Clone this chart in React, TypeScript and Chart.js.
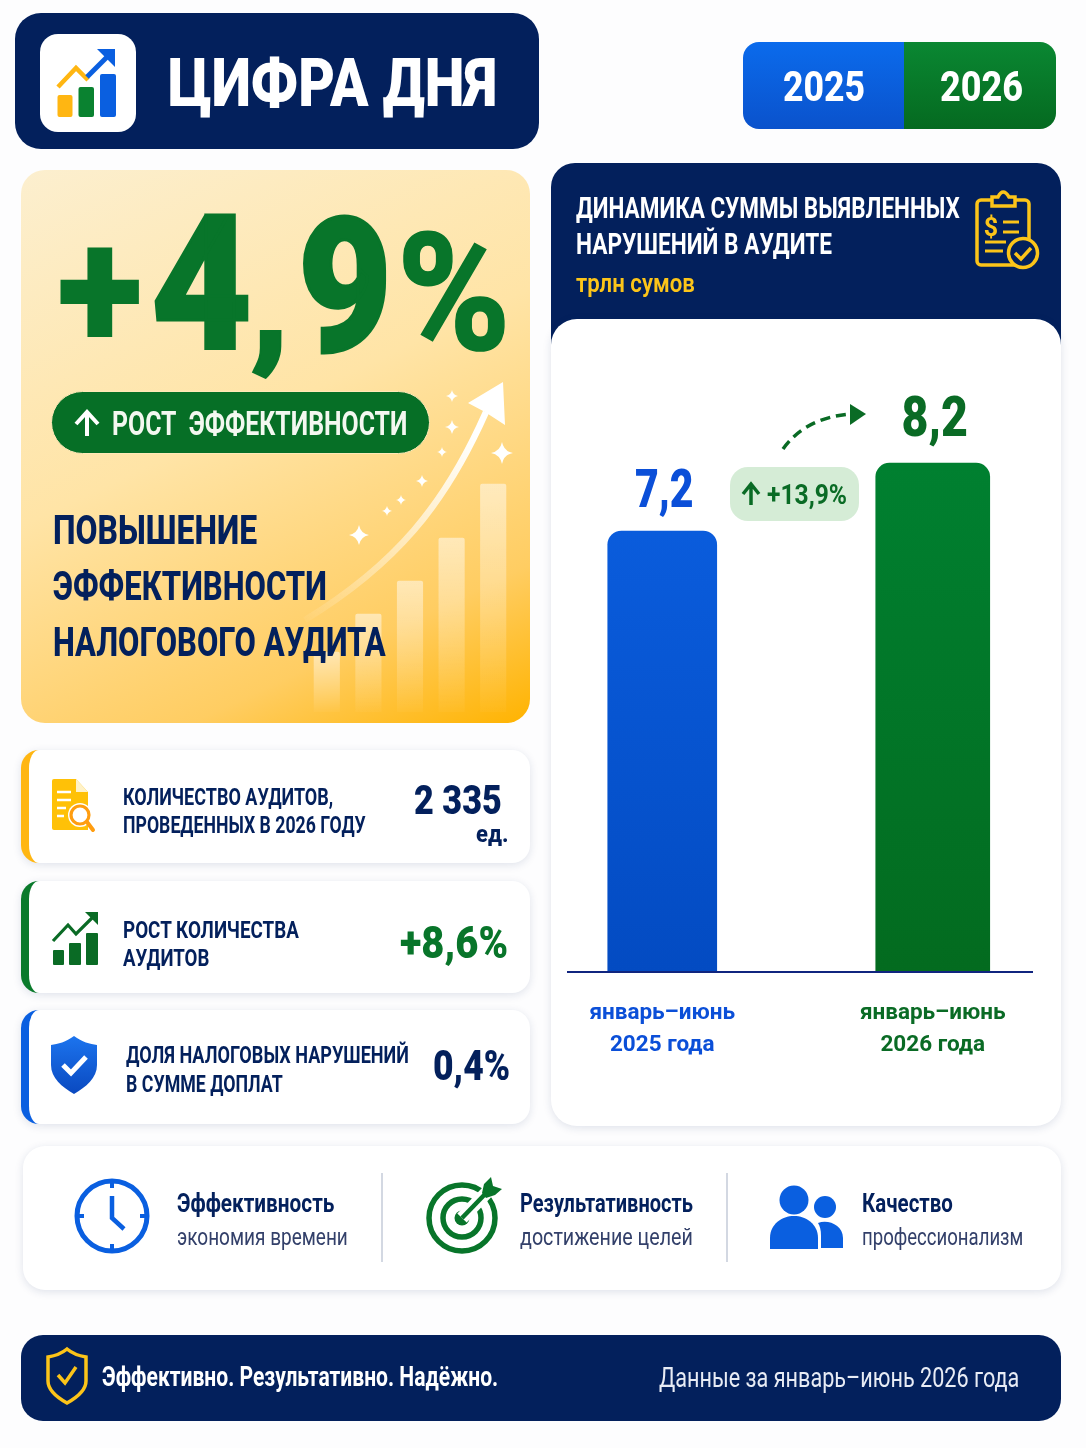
import React, { useEffect, useLayoutEffect, useRef } from "react";
import { Chart, registerables } from "chart.js";

Chart.register(...registerables);

const categories = [["январь–июнь", "2025 года"], ["январь–июнь", "2026 года"]];
const valuesTrln = [7.2, 8.2];
const valueLabels = ["7,2", "8,2"];
const labelGaps = [24, 27];
const labelSizes = [54, 56];
const labelStretch = [0.76, 0.83];
const barWidths = [109, 114];
const barTop = ["#0a5cdc", "#008030"];
const barBottom = ["#034bc2", "#036b1f"];
const tickColors = ["#0b4fd8", "#0a6b25"];
const decorHeights = [60, 98, 131, 174, 228];
const decorLabels = ["1", "2", "3", "4", "5"];

const NAVY = "#03205c";
const GREEN = "#08752a";
const FONT = "Roboto, sans-serif";

function T({ x, y, w, size, color = NAVY, weight = 700, children, ws = 0, stroke = 0 }: any) {
  const ref = useRef<HTMLSpanElement>(null);
  useLayoutEffect(() => {
    const el = ref.current;
    if (el && w) el.style.transform = `scaleX(${w / el.offsetWidth})`;
  }, [w]);
  return (
    <span
      ref={ref}
      style={{
        position: "absolute", left: x, top: y - 0.841 * size, fontFamily: FONT, fontSize: size,
        lineHeight: 1, fontWeight: weight, color, whiteSpace: "nowrap", display: "inline-block",
        transformOrigin: "0 0", wordSpacing: ws,
        ...(stroke ? { WebkitTextStroke: `${stroke}px ${color}` } : {}),
      }}
    >
      {children}
    </span>
  );
}

function Box({ x, y, r, b, style }: any) {
  return <div style={{ position: "absolute", left: x, top: y, width: r - x, height: b - y, boxSizing: "border-box", ...style }} />;
}

function star(cx: number, cy: number, s: number) {
  const k = s * 0.16;
  return `M${cx} ${cy - s}Q${cx + k} ${cy - k} ${cx + s} ${cy}Q${cx + k} ${cy + k} ${cx} ${cy + s}Q${cx - k} ${cy + k} ${cx - s} ${cy}Q${cx - k} ${cy - k} ${cx} ${cy - s}Z`;
}
const stars = [[452, 396, 6], [452, 427, 7], [442, 452, 5], [502, 453, 11], [422, 481, 6], [401, 500, 5], [387, 511, 5], [359, 535, 10]];

const cardShadow = "0 2px 9px rgba(25,45,100,.13)";

function vertical(chart: any, y: number, top: string, bottom: string) {
  const g = chart.ctx.createLinearGradient(0, y, 0, chart.chartArea.bottom);
  g.addColorStop(0, top);
  g.addColorStop(1, bottom);
  return g;
}

export default function App() {
  const chartRef = useRef<HTMLCanvasElement>(null);
  const decorRef = useRef<HTMLCanvasElement>(null);

  useEffect(() => {
    document.body.style.margin = "0";
    document.body.style.background = "#fdfdfe";
    const valueLabelPlugin = {
      id: "valueLabels",
      afterDatasetsDraw(chart: any) {
        const { ctx } = chart;
        chart.data.datasets.forEach((_: any, i: number) => {
          const el = chart.getDatasetMeta(i).data[i];
          ctx.save();
          ctx.translate(el.x + 2, el.y - labelGaps[i]);
          ctx.scale(labelStretch[i], 1);
          ctx.textAlign = "center";
          ctx.textBaseline = "alphabetic";
          ctx.font = `900 ${labelSizes[i]}px ${FONT}`;
          ctx.fillStyle = tickColors[i];
          ctx.fillText(valueLabels[i], 0, 0);
          ctx.restore();
        });
      },
    };
    const baselinePlugin = {
      id: "baseline",
      afterDatasetsDraw(chart: any) {
        const { ctx, chartArea } = chart;
        ctx.save();
        ctx.strokeStyle = "#10257f";
        ctx.lineWidth = 2;
        ctx.beginPath();
        ctx.moveTo(chartArea.left + 40, chartArea.bottom);
        ctx.lineTo(chartArea.right - 35, chartArea.bottom);
        ctx.stroke();
        ctx.restore();
      },
    };
    const main = new Chart(chartRef.current!, {
      type: "bar",
      data: {
        labels: categories as any,
        datasets: valuesTrln.map((v, i) => ({
          label: String(i),
          data: valuesTrln.map((_, j) => (j === i ? v : null)),
          barThickness: barWidths[i],
          borderRadius: 14,
          backgroundColor: (c: any) =>
            c.chart.chartArea ? vertical(c.chart, c.chart.scales.y.getPixelForValue(v), barTop[i], barBottom[i]) : barTop[i],
        })),
      },
      options: {
        animation: false,
        responsive: false,
        devicePixelRatio: 1,
        layout: { padding: 0 },
        plugins: { legend: { display: false }, tooltip: { enabled: false } },
        scales: {
          x: {
            stacked: true,
            grid: { display: false },
            border: { display: false },
            afterFit: (s: any) => { s.height = 98; },
            ticks: {
              padding: 17,
              autoSkip: false,
              maxRotation: 0,
              color: (c: any) => tickColors[c.index],
              font: { family: FONT, size: 22.5, weight: 700, lineHeight: 1.42 },
            },
          },
          y: { display: false, min: 0.7, max: 9.425, stacked: false },
        },
      } as any,
      plugins: [baselinePlugin, valueLabelPlugin],
    });
    const decor = new Chart(decorRef.current!, {
      type: "bar",
      data: {
        labels: decorLabels,
        datasets: [{
          data: decorHeights,
          barThickness: 25.5,
          borderRadius: 2,
          backgroundColor: (c: any) =>
            c.chart.chartArea
              ? vertical(c.chart, c.chart.scales.y.getPixelForValue(c.raw), "rgba(255,255,255,.5)", "rgba(255,255,255,.03)")
              : "rgba(255,255,255,.3)",
        }],
      },
      options: {
        animation: false,
        responsive: false,
        devicePixelRatio: 1,
        layout: { padding: 0 },
        plugins: { legend: { display: false }, tooltip: { enabled: false } },
        scales: { x: { display: false }, y: { display: false, min: 0, max: 242 } },
      } as any,
    });
    return () => { main.destroy(); decor.destroy(); };
  }, []);

  return (
    <div style={{ position: "relative", width: 1086, height: 1448, overflow: "hidden", background: "#fdfdfe" }}>
      {/* header */}
      <Box x={15} y={13} r={539} b={149} style={{ background: NAVY, borderRadius: 26 }} />
      <Box x={40} y={34} r={136} b={132} style={{ background: "#fff", borderRadius: 18 }} />
      <Box x={743} y={42} r={904} b={129} style={{ background: "linear-gradient(180deg,#0b6bec,#0a52cc)", borderRadius: "16px 0 0 16px" }} />
      <Box x={904} y={42} r={1056} b={129} style={{ background: "linear-gradient(180deg,#0a8732,#056a20)", borderRadius: "0 16px 16px 0" }} />

      {/* big card */}
      <Box x={21} y={170} r={530} b={723} style={{ background: "linear-gradient(155deg,#fcefcf 0%,#ffe4a6 45%,#ffcd62 80%,#ffb300 100%)", borderRadius: 24 }} />
      <Box x={51} y={391} r={430} b={454} style={{ background: "#066f26", borderRadius: 32, border: "1px solid #ffe9b8" }} />
      <canvas ref={decorRef} width={208} height={242} style={{ position: "absolute", left: 306, top: 470 }} />

      {/* stat cards */}
      {[["#ffb612", 750, 863], ["#0a7a2b", 881, 993], ["#0a5fe0", 1010, 1124]].map(([c, t, b]: any) => (
        <Box key={t} x={21} y={t} r={530} b={b} style={{ background: "#fff", borderRadius: 18, borderLeft: `8px solid ${c}`, boxShadow: cardShadow }} />
      ))}

      {/* chart card */}
      <Box x={551} y={163} r={1061} b={360} style={{ background: NAVY, borderRadius: "24px 24px 0 0" }} />
      <Box x={551} y={319} r={1061} b={1126} style={{ background: "#fff", borderRadius: 26, boxShadow: cardShadow }} />
      <canvas ref={chartRef} width={541} height={690} style={{ position: "absolute", left: 527, top: 380 }} />
      <Box x={730} y={467} r={859} b={521} style={{ background: "#d5ecd6", borderRadius: 18 }} />

      {/* bottom card */}
      <Box x={23} y={1146} r={1061} b={1290} style={{ background: "#fff", borderRadius: 22, boxShadow: cardShadow }} />
      <Box x={381} y={1173} r={383} b={1262} style={{ background: "#d3d8e2" }} />
      <Box x={726} y={1173} r={728} b={1262} style={{ background: "#d3d8e2" }} />

      {/* footer */}
      <Box x={21} y={1335} r={1061} b={1421} style={{ background: NAVY, borderRadius: 22 }} />

      {/* icons */}
      <svg width={1086} height={1448} style={{ position: "absolute", left: 0, top: 0, pointerEvents: "none" }}>
        <defs>
          <linearGradient id="sweep" gradientUnits="userSpaceOnUse" x1={305} y1={620} x2={470} y2={430}>
            <stop offset="0" stopColor="#fff" stopOpacity={0.05} />
            <stop offset="1" stopColor="#fff" stopOpacity={1} />
          </linearGradient>
          <linearGradient id="shield" x1="0" y1="0" x2="0" y2="1">
            <stop offset="0" stopColor="#1c74ee" />
            <stop offset="1" stopColor="#0a49c0" />
          </linearGradient>
        </defs>
        {/* header icon */}
        <rect x={57.5} y={95} width={15} height={22} rx={2} fill="#ffb612" />
        <rect x={78.5} y={87} width={15.5} height={30} rx={2} fill="#0a8230" />
        <rect x={100} y={74} width={16} height={43} rx={2} fill="#0a5fe0" />
        <path d="M58 87L76 68L88 80" fill="none" stroke="#ffb612" strokeWidth={4.5} />
        <path d="M87 77L108 56" fill="none" stroke="#0a5fe0" strokeWidth={5} />
        <path d="M97 49H115V67Z" fill="#0a5fe0" />
        {/* big arrow */}
        <path d="M305 620C395 565 445 505 486 412" fill="none" stroke="url(#sweep)" strokeWidth={6.5} />
        <path d="M503 382L468 403L485 412L505 425Z" fill="#fff" />
        {stars.map(([a, b, s], i) => <path key={i} d={star(a, b, s)} fill="#fff" />)}
        <path d="M87 436V414M76 424L87 412L98 424" fill="none" stroke="#fff" strokeWidth={4} />
        {/* doc icon */}
        <path d="M54 779H76L88 792V830H54Q52 830 52 828V781Q52 779 54 779Z" fill="#ffc107" />
        <path d="M76 779V792H88Z" fill="#fff2c8" />
        <path d="M57 792H71M57 800H71M57 808H66M57 816H64" stroke="#fff" strokeWidth={2.5} />
        <circle cx={80} cy={815} r={12} fill="#fff" />
        <circle cx={80} cy={815} r={9} fill="#fff" stroke="#ff9d10" strokeWidth={3.2} />
        <path d="M87 822L93 830" stroke="#ff9d10" strokeWidth={4} strokeLinecap="round" />
        {/* growth icon */}
        <rect x={53} y={950} width={11} height={15} rx={1} fill="#0a6b25" />
        <rect x={69} y={943} width={12} height={22} rx={1} fill="#0a6b25" />
        <rect x={86} y={933} width={12} height={32} rx={1} fill="#0a6b25" />
        <path d="M53 941L68 925L76 934L95 915" fill="none" stroke="#0a6b25" strokeWidth={3.2} />
        <path d="M85 912H98V925Z" fill="#0a6b25" />
        {/* shield */}
        <path d="M74 1036C66 1042 58 1044 51 1045V1065C51 1078 62 1087 74 1094C86 1087 97 1078 97 1065V1045C90 1044 82 1042 74 1036Z" fill="url(#shield)" />
        <path d="M63 1065L71 1073L86 1057" fill="none" stroke="#fff" strokeWidth={5} />
        {/* clipboard */}
        <rect x={977} y={200} width={52} height={65} rx={4} fill="none" stroke="#fcc419" strokeWidth={3.5} />
        <path d="M992 206V197H998Q1003 187 1009 197H1015V206Z" fill={NAVY} stroke="#fcc419" strokeWidth={3.5} />
        <text x={991} y={236} textAnchor="middle" fontFamily={FONT} fontWeight={700} fontSize={25} fill="#fcc419">$</text>
        <path d="M1003 222H1019M1003 232H1019M985 242H1006M985 251H1003" stroke="#fcc419" strokeWidth={3.2} />
        <circle cx={1023} cy={253} r={14.5} fill={NAVY} stroke="#fcc419" strokeWidth={3.5} />
        <path d="M1015 253L1021 259L1031 248" fill="none" stroke="#fcc419" strokeWidth={3.5} />
        {/* dashed arrow */}
        <path d="M783 449Q805 418 850 414" fill="none" stroke="#0a6b25" strokeWidth={3.5} strokeDasharray="10 6" />
        <path d="M866 414L850 404V425Z" fill="#0a6b25" />
        <path d="M751 505V486M743 494L751 484L759 494" fill="none" stroke="#0a6b25" strokeWidth={3.5} />
        {/* clock */}
        <circle cx={112} cy={1216} r={35} fill="none" stroke="#0a5fe0" strokeWidth={5} />
        <path d="M112 1180V1188M112 1244V1252M76 1216H84M140 1216H148" stroke="#0a5fe0" strokeWidth={4} />
        <path d="M112 1196V1218L124 1229" fill="none" stroke="#0a5fe0" strokeWidth={4.5} />
        {/* target */}
        <circle cx={462} cy={1218} r={33} fill="none" stroke={GREEN} strokeWidth={5.5} />
        <circle cx={462} cy={1218} r={19} fill="none" stroke={GREEN} strokeWidth={5.5} />
        <circle cx={462} cy={1218} r={7.5} fill={GREEN} />
        <path d="M462 1218L493 1186" stroke="#fff" strokeWidth={13} />
        <path d="M462 1218L490 1189" stroke={GREEN} strokeWidth={4.5} />
        <path d="M482 1193L484 1184L491 1177L493 1186L502 1189L495 1195L486 1198Z" fill={GREEN} />
        {/* people */}
        <circle cx={794} cy={1200} r={14.5} fill="#0a5fe0" />
        <path d="M770 1249V1238C770 1224 782 1216 794 1216C806 1216 818 1224 818 1238V1249Z" fill="#0a5fe0" />
        <circle cx={825} cy={1207} r={11} fill="#0a5fe0" />
        <path d="M821 1248V1236C821 1230 820 1226 818 1223C828 1219 843 1225 843 1238V1248Z" fill="#0a5fe0" />
        {/* footer shield */}
        <path d="M67 1349C61 1354 54 1356 48 1357V1381C48 1391 58 1398 67 1403C76 1398 86 1391 86 1381V1357C80 1356 73 1354 67 1349Z" fill="none" stroke="#fcc419" strokeWidth={3.5} />
        <path d="M58 1375L65 1383L76 1367" fill="none" stroke="#fcc419" strokeWidth={3.5} />
      </svg>

      {/* texts */}
      <T x={168} y={107} w={329} size={66} color="#fff" weight={900}>ЦИФРА ДНЯ</T>
      <T x={783} y={101.5} w={82} size={43} color="#fff" weight={800}>2025</T>
      <T x={940} y={101.5} w={83} size={43} color="#fff" weight={800}>2026</T>

      <div>
        <T x={57} y={349} w={86} size={172} color={GREEN} weight={900}>+</T>
        <T x={151} y={348} w={101} size={188} color={GREEN} weight={900} stroke={3}>4</T>
        <T x={250} y={349} w={40} size={148} color={GREEN} weight={900} stroke={2}>,</T>
        <T x={298} y={351} w={94} size={188} color={GREEN} weight={900} stroke={3}>9</T>
        <T x={397} y={349} w={114} size={164} color={GREEN} weight={800} stroke={1.5}>%</T>
      </div>
      <T x={112} y={435} w={295} size={33} color="#f3f8f0" weight={700} ws={9}>РОСТ ЭФФЕКТИВНОСТИ</T>
      <T x={53} y={544} w={204} size={41} weight={800}>ПОВЫШЕНИЕ</T>
      <T x={53} y={600} w={274} size={41} weight={800}>ЭФФЕКТИВНОСТИ</T>
      <T x={53} y={656} w={333} size={41} weight={800}>НАЛОГОВОГО АУДИТА</T>

      <T x={123} y={805} w={210} size={23} weight={700}>КОЛИЧЕСТВО АУДИТОВ,</T>
      <T x={123} y={833} w={243} size={23} weight={700}>ПРОВЕДЕННЫХ В 2026 ГОДУ</T>
      <T x={414} y={815} w={88} size={40} weight={900}>2 335</T>
      <T x={476} y={842} w={32} size={24} weight={800}>ед.</T>

      <T x={123} y={938} w={176} size={23} weight={700}>РОСТ КОЛИЧЕСТВА</T>
      <T x={123} y={966} w={86} size={23} weight={700}>АУДИТОВ</T>
      <T x={400} y={958} w={108} size={44} color={GREEN} weight={900}>+8,6%</T>

      <T x={126} y={1063} w={283} size={23} weight={700}>ДОЛЯ НАЛОГОВЫХ НАРУШЕНИЙ</T>
      <T x={126} y={1092} w={157} size={23} weight={700}>В СУММЕ ДОПЛАТ</T>
      <T x={433} y={1080} w={77} size={42} weight={900}>0,4%</T>

      <T x={576} y={218} w={384} size={30} color="#fff" weight={700}>ДИНАМИКА СУММЫ ВЫЯВЛЕННЫХ</T>
      <T x={576} y={254} w={256} size={30} color="#fff" weight={700}>НАРУШЕНИЙ В АУДИТЕ</T>
      <T x={576} y={292} w={119} size={25} color="#fcc419" weight={600}>трлн сумов</T>
      <T x={767} y={505} w={80} size={28} color="#0a6b25" weight={700}>+13,9%</T>

      <T x={177} y={1212} w={157} size={25} weight={700}>Эффективность</T>
      <T x={177} y={1245} w={171} size={24} color="#33406a" weight={400}>экономия времени</T>
      <T x={520} y={1212} w={173} size={25} weight={700}>Результативность</T>
      <T x={520} y={1245} w={173} size={24} color="#33406a" weight={400}>достижение целей</T>
      <T x={862} y={1212} w={91} size={25} weight={700}>Качество</T>
      <T x={862} y={1245} w={161} size={24} color="#33406a" weight={400}>профессионализм</T>

      <T x={102} y={1387} w={396} size={28} color="#fff" weight={700}>Эффективно. Результативно. Надёжно.</T>
      <T x={659} y={1388} w={360} size={28} color="#e8ecf5" weight={400}>Данные за январь–июнь 2026 года</T>
    </div>
  );
}
